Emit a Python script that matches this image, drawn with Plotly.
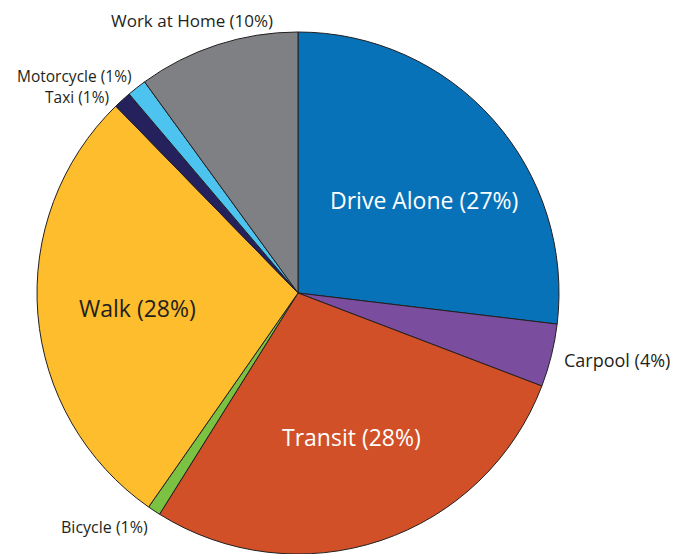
import plotly.graph_objects as go

categories = ["Drive Alone", "Carpool", "Transit", "Bicycle", "Walk", "Taxi", "Motorcycle", "Work at Home"]
values = [26.9, 3.9, 28.1, 0.8, 28.0, 1.1, 1.2, 10.0]
pct_labels = ["27%", "4%", "28%", "1%", "28%", "1%", "1%", "10%"]
colors = ["#0872B9", "#7B4D9F", "#D15027", "#7CC242", "#FDBD2C", "#24215C", "#4DC4F0", "#7F8083"]

texts = [f"{c} ({p})" for c, p in zip(categories, pct_labels)]

# page body has an 8px margin; figure sized to fit the window
OFF = 8
W, H = 691 - OFF, 554 - OFF
PIE_D = 522

fig = go.Figure(go.Pie(
    labels=categories,
    values=values,
    text=texts,
    textinfo="none",
    sort=False,
    direction="clockwise",
    rotation=0,
    marker=dict(colors=colors, line=dict(color="#231F20", width=1)),
    domain=dict(x=[0, 2 * (298 - OFF) / W], y=[0, PIE_D / H]),
    hovertext=texts,
    hoverinfo="text",
    showlegend=False,
))

# label placement (screen pixels) and style
label_style = {
    "Drive Alone": dict(x=424, y=200, xanchor="center", size=23, color="white"),
    "Transit": dict(x=351, y=437, xanchor="center", size=23, color="white"),
    "Walk": dict(x=137.5, y=307.5, xanchor="center", size=23, color="#231F20"),
    "Work at Home": dict(x=192, y=20, xanchor="center", size=17, color="#231F20"),
    "Motorcycle": dict(x=134, y=76, xanchor="right", size=15.5, color="#231F20"),
    "Taxi": dict(x=111, y=97, xanchor="right", size=15.5, color="#231F20"),
    "Carpool": dict(x=562, y=360, xanchor="left", size=18, color="#231F20"),
    "Bicycle": dict(x=59, y=527, xanchor="left", size=16, color="#231F20"),
}
for c, t in zip(categories, texts):
    o = label_style[c]
    fig.add_annotation(
        text=t, x=(o["x"] - OFF) / W, y=1 - (o["y"] - OFF) / H,
        xref="paper", yref="paper",
        xanchor=o["xanchor"], yanchor="middle", showarrow=False,
        font=dict(family="Open Sans", size=o["size"], color=o["color"]),
    )

fig.update_layout(
    width=W, height=H,
    margin=dict(l=0, r=0, t=0, b=0),
    paper_bgcolor="white",
    plot_bgcolor="white",
)
fig.write_html("out.html")
